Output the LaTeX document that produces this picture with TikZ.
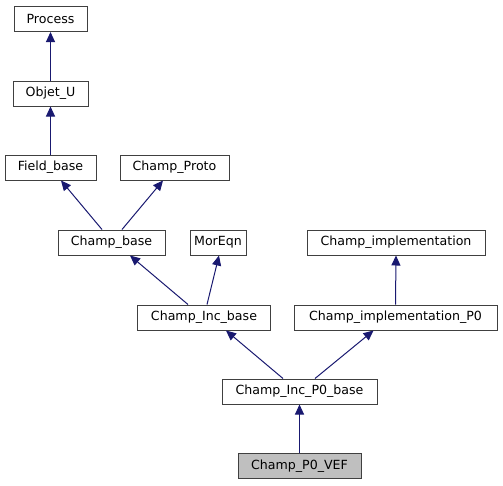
\documentclass[tikz,border=0pt]{standalone}
\usepackage{fontspec}
\setmainfont{DejaVu Sans}
\usetikzlibrary{arrows.meta}
\definecolor{edgeblue}{HTML}{191970}
\definecolor{boxline}{HTML}{404040}
\tikzset{
  cls/.style={draw=boxline, line width=1pt, minimum height=25pt, inner sep=0pt, font=\fontsize{12.6}{15}\selectfont, text=black},
  cur/.style={cls, fill=black!25},
  inh/.style={draw=edgeblue, line width=1pt, -{Triangle[length=10pt,width=9pt]}}
}
\begin{document}
\begin{tikzpicture}[x=1pt,y=-1pt]
\useasboundingbox (0,0) rectangle (503,485);
\node[cls, minimum width=73pt] (process) at (50.5,19) {Process};
\node[cls, minimum width=75pt] (objet) at (50.5,93.5) {Objet\_U};
\node[cls, minimum width=91pt] (field) at (50.5,167.5) {Field\_base};
\node[cls, minimum width=109pt] (proto) at (174.5,167.5) {Champ\_Proto};
\node[cls, minimum width=107pt] (cbase) at (111.5,242.5) {Champ\_base};
\node[cls, minimum width=56pt] (moreqn) at (218,242.5) {MorEqn};
\node[cls, minimum width=178pt] (impl) at (396,242.5) {Champ\_implementation};
\node[cls, minimum width=133pt] (incbase) at (204,317.5) {Champ\_Inc\_base};
\node[cls, minimum width=203pt] (implp0) at (395.5,317.5) {Champ\_implementation\_P0};
\node[cls, minimum width=155pt] (incp0) at (299.5,391.5) {Champ\_Inc\_P0\_base};
\node[cur, minimum width=123pt] (vef) at (299.5,466) {Champ\_P0\_VEF};

\draw[inh] (objet.north) -- (process.south);
\draw[inh] (field.north) -- (objet.south);
\draw[inh] ([xshift=-9.5pt]cbase.north) -- ([xshift=10.5pt]field.south);
\draw[inh] ([xshift=10.5pt]cbase.north) -- ([xshift=-11.5pt]proto.south);
\draw[inh] ([xshift=-16pt]incbase.north) -- ([xshift=18.5pt]cbase.south);
\draw[inh] ([xshift=3pt]incbase.north) -- ([xshift=1pt]moreqn.south);
\draw[inh] (implp0.north) -- (impl.south);
\draw[inh] ([xshift=-16.5pt]incp0.north) -- ([xshift=22pt]incbase.south);
\draw[inh] ([xshift=15.5pt]incp0.north) -- ([xshift=-22pt]implp0.south);
\draw[inh] (vef.north) -- (incp0.south);
\end{tikzpicture}
\end{document}
